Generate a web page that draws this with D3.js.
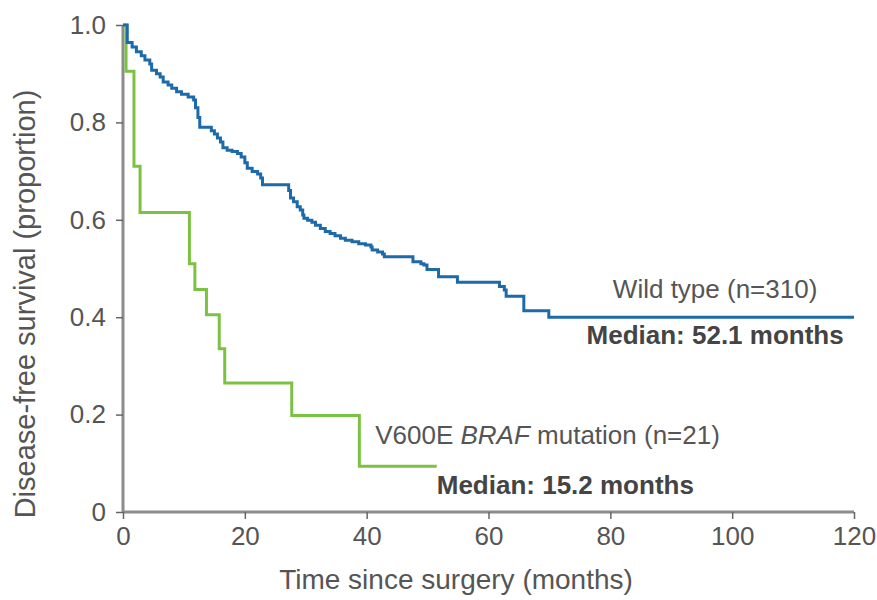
<!DOCTYPE html>
<html>
<head>
<meta charset="utf-8">
<script src="https://cdn.jsdelivr.net/npm/d3@7"></script>
<style>
  html, body { margin: 0; padding: 0; background: #fff; }
  svg text { font-family: "Liberation Sans", Arial, sans-serif; }
</style>
</head>
<body>
<svg id="chart" width="877" height="600"></svg>
<script>
// Kaplan–Meier estimates: event time (months) and survival proportion after that event
const wildTimes = [0, 0.7, 1.5, 2.2, 3.0, 3.6, 4.4, 4.7, 5.5, 6.1, 6.6, 7.4, 8.0, 8.8, 9.6, 10.7, 11.6, 11.9, 12.3, 12.6,
  14.5, 15.0, 15.5, 16.0, 16.4, 17.1, 17.9, 18.8, 19.4, 20.0, 20.4, 21.2, 22.1, 22.6, 22.9,
  27.2, 27.5, 28.0, 28.6, 29.1, 29.5, 29.7, 30.3, 31.0, 31.6, 32.4, 33.2, 34.0, 34.8, 35.7, 36.5, 37.6, 38.7, 39.8,
  40.7, 40.9, 41.8, 42.6, 42.9, 47.6, 48.9, 49.4, 49.9, 51.8, 54.9, 61.8, 62.6, 62.9, 65.8, 69.9, 120];
const wildSurv = [1.0, 0.964, 0.955, 0.945, 0.937, 0.928, 0.920, 0.907, 0.900, 0.893, 0.883, 0.877, 0.870, 0.863, 0.858, 0.852, 0.846, 0.830, 0.810, 0.790,
  0.783, 0.776, 0.768, 0.760, 0.748, 0.743, 0.740, 0.736, 0.729, 0.717, 0.706, 0.699, 0.694, 0.686, 0.672,
  0.660, 0.645, 0.637, 0.627, 0.620, 0.610, 0.603, 0.599, 0.595, 0.589, 0.582, 0.576, 0.572, 0.567, 0.562, 0.558, 0.555, 0.551, 0.548,
  0.544, 0.538, 0.534, 0.530, 0.524, 0.514, 0.510, 0.507, 0.498, 0.483, 0.472, 0.463, 0.456, 0.443, 0.413, 0.400, 0.400];

const brafTimes = [0, 0.5, 1.8, 2.8, 10.9, 11.8, 13.7, 15.8, 16.7, 27.7, 38.8, 51.5];
const brafSurv = [1.0, 0.905, 0.710, 0.615, 0.510, 0.457, 0.405, 0.335, 0.265, 0.198, 0.094, 0.094];

const xTicks = [0, 20, 40, 60, 80, 100, 120];
const yTicks = [0, 0.2, 0.4, 0.6, 0.8, 1.0];

const svg = d3.select("#chart");
const margin = { left: 123, top: 25, right: 23, bottom: 88 };
const W = 877 - margin.left - margin.right;
const H = 600 - margin.top - margin.bottom;
const g = svg.append("g").attr("transform", `translate(${margin.left},${margin.top})`);

const x = d3.scaleLinear().domain([0, 120]).range([0, W]);
const y = d3.scaleLinear().domain([0, 1]).range([H, 0]);

const axisColor = "#8c8c8c";
const textColor = "#555";

// axes
const xAxis = g.append("g").attr("transform", `translate(0,${H})`)
  .call(d3.axisBottom(x).tickValues(xTicks).tickSize(7).tickPadding(8).tickFormat(d3.format("d")));
const yAxis = g.append("g")
  .call(d3.axisLeft(y).tickValues(yTicks).tickSize(7).tickPadding(10)
    .tickFormat(d => d === 0 ? "0" : d3.format(".1f")(d)));

[xAxis, yAxis].forEach(a => {
  a.select(".domain").attr("stroke", axisColor).attr("stroke-width", 3);
  a.selectAll(".tick line").attr("stroke", "#666").attr("stroke-width", 1.5);
  a.selectAll(".tick text").attr("fill", textColor).style("font-size", "26px");
});
xAxis.select(".domain").attr("d", `M0,0H${W}`);
yAxis.select(".domain").attr("d", `M0,${H}V0`);

// survival curves
const line = d3.line().x(d => x(d[0])).y(d => y(d[1])).curve(d3.curveStepAfter);
const curves = g.append("g").attr("fill", "none").attr("stroke-width", 3);
curves.append("path")
  .datum(d3.zip(brafTimes, brafSurv))
  .attr("stroke", "#7cc242")
  .attr("d", line);
curves.append("path")
  .datum(d3.zip(wildTimes, wildSurv))
  .attr("stroke", "#1d6aab")
  .attr("d", line);

// curve annotations
g.append("text").attr("x", x(97.2)).attr("y", y(0.4) - 19)
  .attr("text-anchor", "middle").attr("fill", textColor).style("font-size", "26px")
  .text("Wild type (n=310)");
g.append("text").attr("x", x(97.2)).attr("y", y(0.4) + 27)
  .attr("text-anchor", "middle").attr("fill", "#444").style("font-size", "26px").style("font-weight", "bold")
  .text("Median: 52.1 months");

const braf = g.append("text").attr("x", x(41.4)).attr("y", y(0.094) - 22)
  .attr("fill", textColor).style("font-size", "26px");
braf.append("tspan").text("V600E ");
braf.append("tspan").style("font-style", "italic").text("BRAF");
braf.append("tspan").text(" mutation (n=21)");
g.append("text").attr("x", x(51.5)).attr("y", y(0.094) + 28)
  .attr("fill", "#444").style("font-size", "26px").style("font-weight", "bold")
  .text("Median: 15.2 months");

// axis titles
svg.append("text").attr("x", 456).attr("y", 589)
  .attr("text-anchor", "middle").attr("fill", textColor).style("font-size", "28px")
  .text("Time since surgery (months)");
svg.append("text").attr("transform", "translate(35,304) rotate(-90)")
  .attr("text-anchor", "middle").attr("fill", textColor).style("font-size", "29px")
  .text("Disease-free survival (proportion)");
</script>
</body>
</html>
